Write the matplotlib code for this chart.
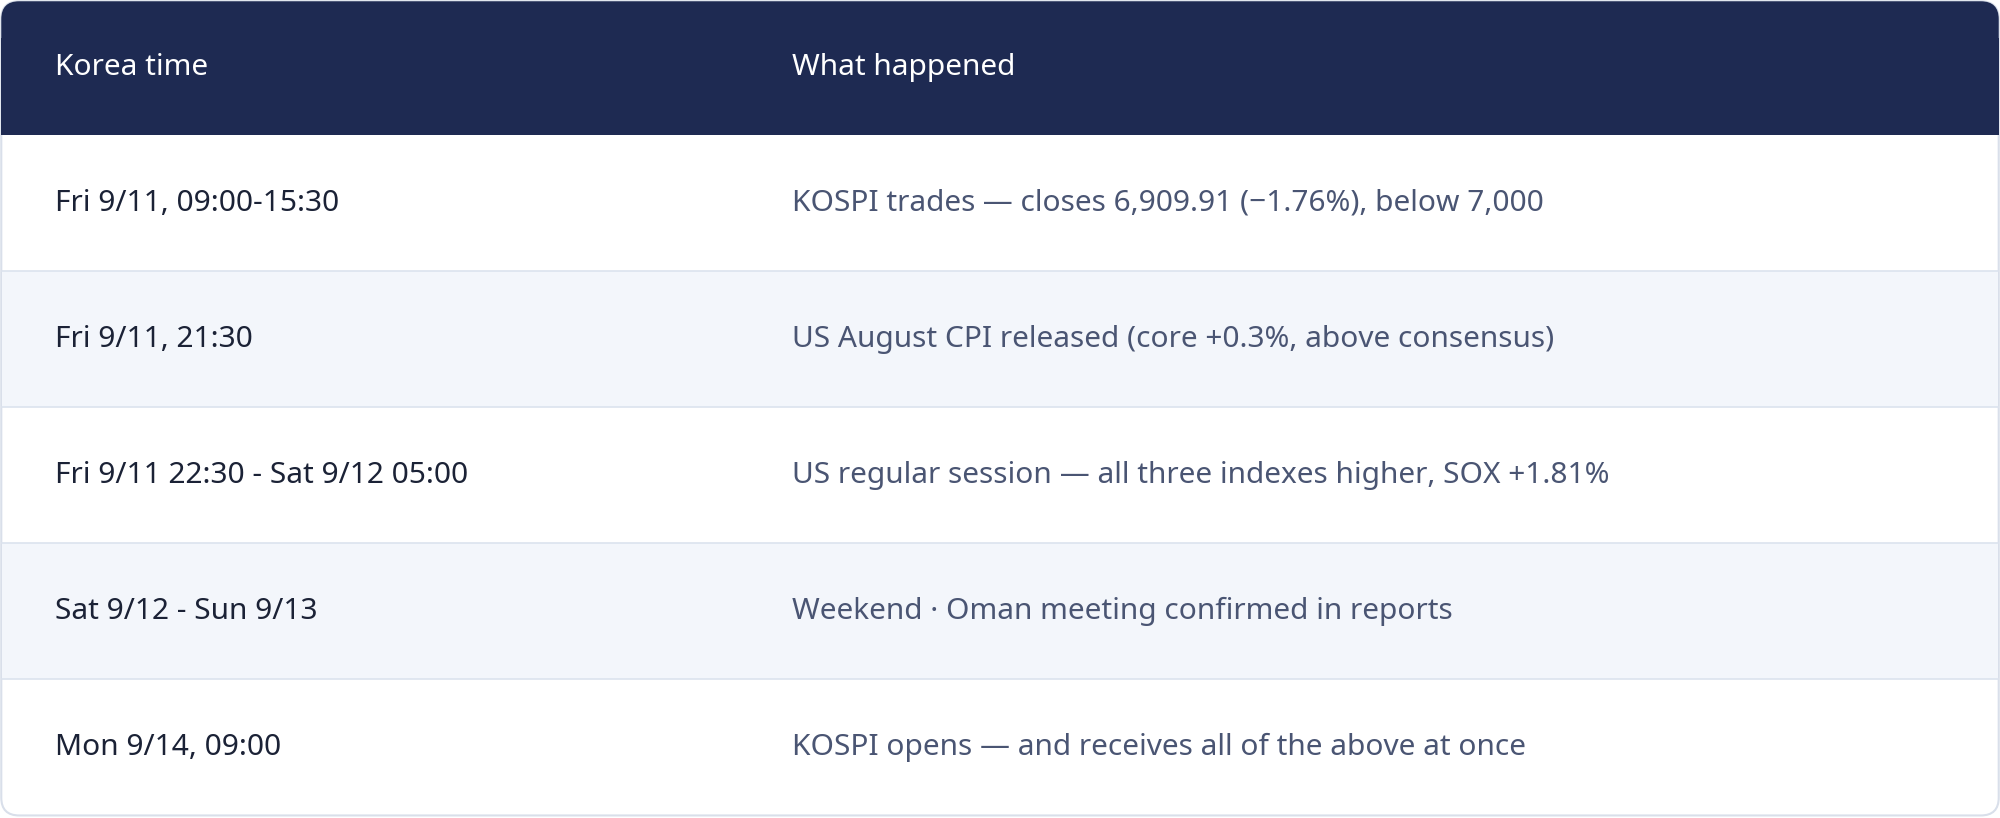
import matplotlib
matplotlib.use("Agg")
import matplotlib.pyplot as plt
from matplotlib.patches import FancyBboxPatch, Rectangle

headers = ["Korea time", "What happened"]
times = ["Fri 9/11, 09:00-15:30", "Fri 9/11, 21:30", "Fri 9/11 22:30 - Sat 9/12 05:00",
         "Sat 9/12 - Sun 9/13", "Mon 9/14, 09:00"]
events_bold = ["KOSPI trades", "", "US regular session", "", "KOSPI opens — and receives all of the above at once"]
events_rest = [" — closes 6,909.91 (\u22121.76%), below 7,000", "US August CPI released (core +0.3%, above consensus)",
               " — all three indexes higher, SOX +1.81%", "Weekend · Oman meeting confirmed in reports", ""]

W, H = 1568, 642
fig = plt.figure(figsize=(20, 8.18), dpi=100)
ax = fig.add_axes([0, 0, 1, 1])
ax.set_xlim(0, W); ax.set_ylim(H, 0); ax.axis("off")
plt.rcParams['font.family'] = ['Noto Sans', 'DejaVu Sans']

navy = "#1E2A52"; dark = "#1B2236"; grey = "#4A5573"
hdr_h = 106
row_h = (H - 2 - hdr_h) / len(times)
ax.add_patch(FancyBboxPatch((1, 1), W - 2, H - 3, boxstyle="round,pad=0,rounding_size=14",
                            fc="white", ec="#D9DFEA", lw=1.5, zorder=0))
ax.add_patch(FancyBboxPatch((1, 1), W - 2, 50, boxstyle="round,pad=0,rounding_size=14",
                            fc=navy, ec="none", zorder=1))
ax.add_patch(Rectangle((1, 30), W - 2, hdr_h - 30, fc=navy, ec="none", zorder=1))
for i in range(len(times)):
    y0 = hdr_h + i * row_h
    if i % 2 == 1:
        ax.add_patch(Rectangle((1.5, y0), W - 3, row_h, fc="#F3F6FB", ec="none", zorder=1))
    if i > 0:
        ax.plot([1.5, W - 1.5], [y0, y0], color="#DCE3EE", lw=1.2, zorder=2)

fs = 21.5
ax.text(43, hdr_h / 2, headers[0], color="white", fontsize=fs, fontweight="bold", va="center", zorder=3)
ax.text(621, hdr_h / 2, headers[1], color="white", fontsize=fs, fontweight="bold", va="center", zorder=3)

fig.canvas.draw()
r = fig.canvas.get_renderer()
inv = ax.transData.inverted()
for i, (t, b, rest) in enumerate(zip(times, events_bold, events_rest)):
    yc = hdr_h + (i + 0.5) * row_h
    ax.text(43, yc, t, color=dark, fontsize=fs, fontweight="bold", va="center", zorder=3)
    x = 621
    if b:
        tb = ax.text(x, yc, b, color=grey, fontsize=fs, fontweight="bold", va="center", zorder=3)
        bb = tb.get_window_extent(r)
        x = inv.transform((bb.x1, bb.y0))[0]
    if rest:
        ax.text(x, yc, rest, color=grey, fontsize=fs, va="center", zorder=3)

fig.savefig("out.png", dpi=100)
